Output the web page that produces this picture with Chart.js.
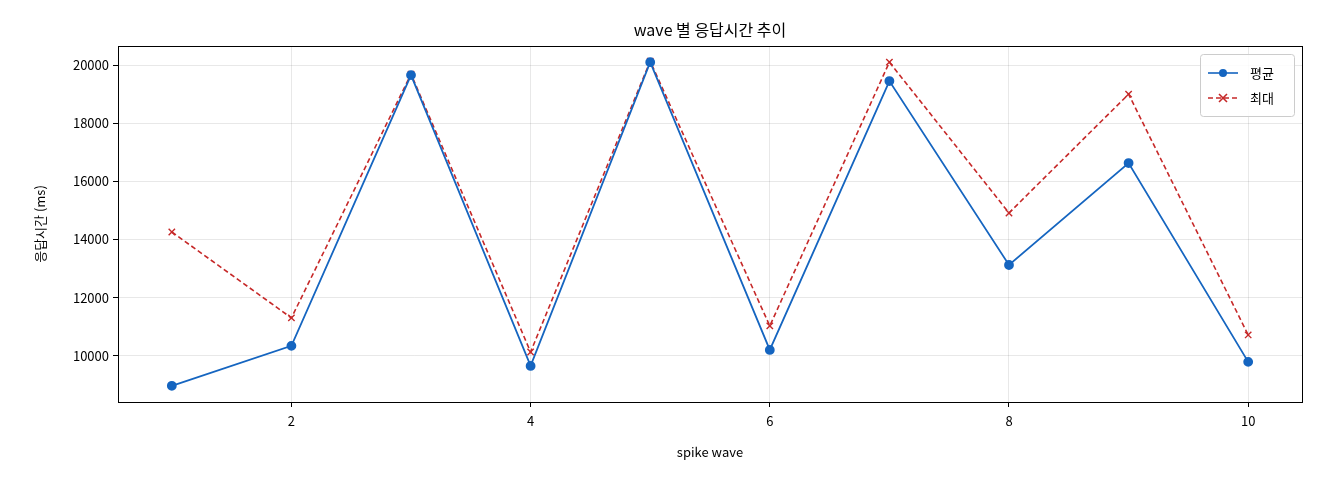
<!DOCTYPE html>
<html>
<head>
<meta charset="utf-8">
<script src="https://cdn.jsdelivr.net/npm/chart.js@4"></script>
<style>
  body { margin: 0; background: #fff; }
  #wrap { width: 1320px; height: 480px; }
</style>
</head>
<body>
<div id="wrap"><canvas id="chart" width="1320" height="480"></canvas></div>
<script>
const waves = [1, 2, 3, 4, 5, 6, 7, 8, 9, 10];
const avgValues = [8970, 10345, 19655, 9655, 20100, 10205, 19450, 13125, 16630, 9795];
const maxValues = [14260, 11305, 19690, 10135, 20135, 11030, 20100, 14915, 19000, 10720];
const xTicks = [2, 4, 6, 8, 10];
const yTicks = [10000, 12000, 14000, 16000, 18000, 20000];

const FONT = "'Noto Sans CJK KR', 'Noto Sans', sans-serif";
const BLUE = '#1565c0';
const RED = '#c62828';

// title, frame and legend box drawn on top
const decor = {
  id: 'decor',
  afterDraw(chart) {
    const c = chart.ctx;
    const a = chart.chartArea;
    c.save();
    c.strokeStyle = '#000';
    c.lineWidth = 1;
    c.strokeRect(Math.round(a.left) + 0.5, Math.round(a.top) + 0.5,
      Math.round(a.right - a.left), Math.round(a.bottom - a.top));

    c.fillStyle = '#000';
    c.font = '16px ' + FONT;
    c.textAlign = 'center';
    c.textBaseline = 'middle';
    c.fillText('wave 별 응답시간 추이', (a.left + a.right) / 2, 30);

    const bx = a.right - 102, by = a.top + 8, bw = 94, bh = 62;
    c.fillStyle = 'rgba(255,255,255,0.85)';
    c.strokeStyle = '#ccc';
    c.beginPath();
    c.roundRect(bx + 0.5, by + 0.5, bw, bh, 3);
    c.fill();
    c.stroke();

    c.font = '13px ' + FONT;
    c.textAlign = 'left';
    const rows = [
      { label: '평균', color: BLUE, dash: [], mark: 'dot' },
      { label: '최대', color: RED, dash: [5, 3], mark: 'x' }
    ];
    rows.forEach((r, i) => {
      const y = by + 19 + i * 25;
      c.strokeStyle = r.color;
      c.lineWidth = 1.6;
      c.setLineDash(r.dash);
      c.beginPath();
      c.moveTo(bx + 8, y);
      c.lineTo(bx + 38, y);
      c.stroke();
      c.setLineDash([]);
      if (r.mark === 'dot') {
        c.fillStyle = r.color;
        c.beginPath();
        c.arc(bx + 23, y, 4, 0, Math.PI * 2);
        c.fill();
      } else {
        c.beginPath();
        c.moveTo(bx + 19, y - 4); c.lineTo(bx + 27, y + 4);
        c.moveTo(bx + 27, y - 4); c.lineTo(bx + 19, y + 4);
        c.stroke();
      }
      c.fillStyle = '#000';
      c.fillText(r.label, bx + 50, y);
    });
    c.restore();
  }
};

new Chart(document.getElementById('chart'), {
  type: 'line',
  data: {
    datasets: [
      {
        label: '평균',
        data: waves.map((w, i) => ({ x: w, y: avgValues[i] })),
        borderColor: BLUE,
        backgroundColor: BLUE,
        borderWidth: 1.8,
        pointRadius: 4,
        pointStyle: 'circle',
        tension: 0
      },
      {
        label: '최대',
        data: waves.map((w, i) => ({ x: w, y: maxValues[i] })),
        borderColor: RED,
        backgroundColor: RED,
        borderWidth: 1.6,
        borderDash: [5, 3],
        pointRadius: 4.5,
        pointStyle: 'crossRot',
        pointBorderWidth: 1.4,
        tension: 0
      }
    ]
  },
  options: {
    responsive: false,
    animation: false,
    layout: { padding: { top: 46, left: 28, right: 18, bottom: 0 } },
    plugins: {
      legend: { display: false },
      title: { display: false },
      tooltip: { enabled: false }
    },
    scales: {
      x: {
        type: 'linear',
        min: 0.55,
        max: 10.45,
        afterBuildTicks(scale) { scale.ticks = xTicks.map(v => ({ value: v })); },
        afterFit(scale) { scale.height = 78; },
        grid: { color: 'rgba(0,0,0,0.09)', tickColor: '#000', tickLength: 5 },
        border: { color: '#000', width: 1 },
        ticks: { color: '#000', font: { family: FONT, size: 13 }, padding: 6 },
        title: { display: true, text: 'spike wave', color: '#000', font: { family: FONT, size: 13 }, padding: { top: 4, bottom: 20 } }
      },
      y: {
        min: 8414,
        max: 20656,
        afterBuildTicks(scale) { scale.ticks = yTicks.map(v => ({ value: v })); },
        afterFit(scale) { scale.width = 90; },
        grid: { color: 'rgba(0,0,0,0.09)', tickColor: '#000', tickLength: 5 },
        border: { color: '#000', width: 1 },
        ticks: { color: '#000', font: { family: FONT, size: 13 }, padding: 4, callback: v => String(v) },
        title: { display: true, text: '응답시간 (ms)', color: '#000', font: { family: FONT, size: 13 } }
      }
    }
  },
  plugins: [decor]
});
</script>
</body>
</html>
